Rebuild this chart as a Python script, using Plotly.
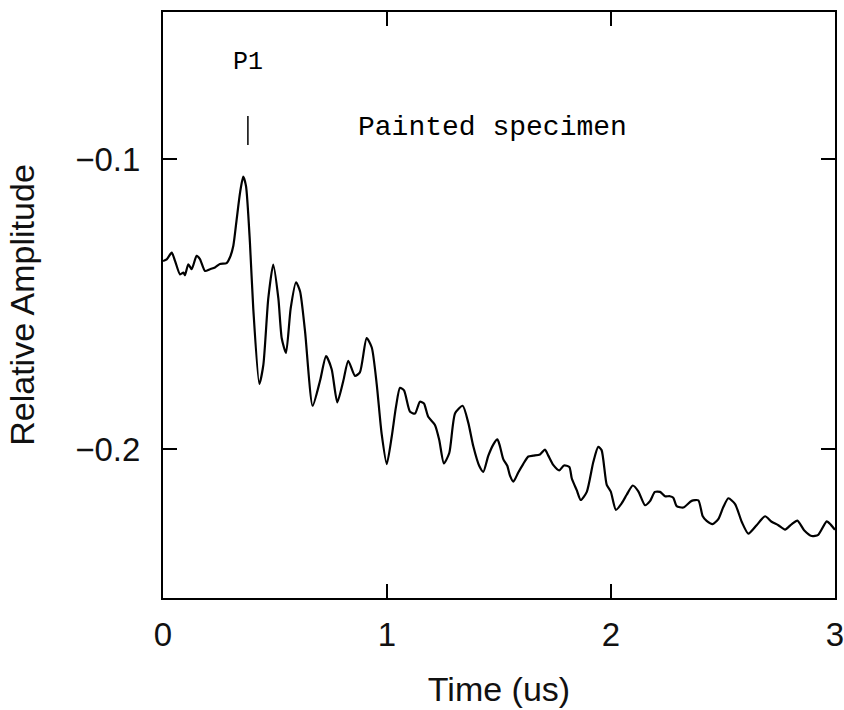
import plotly.graph_objects as go

# Time in microseconds
time_us = [0.00, 0.0165, 0.039, 0.054, 0.076, 0.091, 0.098, 0.113, 0.128, 0.150,
           0.165, 0.1875, 0.210, 0.232, 0.254, 0.284, 0.299, 0.314, 0.329, 0.344,
           0.358, 0.3705, 0.388, 0.403, 0.430, 0.448, 0.470, 0.492, 0.515, 0.530,
           0.549, 0.570, 0.594, 0.612, 0.634, 0.668, 0.701, 0.728, 0.753, 0.778,
           0.805, 0.827, 0.857, 0.879, 0.909, 0.932, 0.954, 0.976, 0.999, 1.021,
           1.040, 1.058, 1.076, 1.103, 1.125, 1.147, 1.165, 1.184, 1.214, 1.233,
           1.254, 1.278, 1.304, 1.338, 1.363, 1.385, 1.412, 1.430, 1.452, 1.475,
           1.493, 1.504, 1.519, 1.537, 1.549, 1.564, 1.586, 1.608, 1.631, 1.653,
           1.683, 1.705, 1.720, 1.742, 1.769, 1.790, 1.814, 1.825, 1.847, 1.865,
           1.892, 1.921, 1.943, 1.958, 1.981, 1.999, 2.022, 2.048, 2.070, 2.097,
           2.122, 2.152, 2.174, 2.196, 2.219, 2.241, 2.263, 2.278, 2.293, 2.323,
           2.360, 2.390, 2.409, 2.427, 2.454, 2.479, 2.501, 2.524, 2.554, 2.584,
           2.613, 2.650, 2.688, 2.717, 2.747, 2.777, 2.807, 2.832, 2.862, 2.896,
           2.925, 2.963, 2.981, 3.000]

# Relative amplitude
amplitude = [-0.1352, -0.1346, -0.1323, -0.1352, -0.1398, -0.1392, -0.1401, -0.1363, -0.1380, -0.1334,
             -0.1345, -0.1386, -0.1380, -0.1374, -0.1362, -0.1359, -0.1339, -0.1299, -0.1207, -0.1116,
             -0.1061, -0.1093, -0.1287, -0.1516, -0.1776, -0.1710, -0.1481, -0.1364, -0.1481, -0.1618,
             -0.1669, -0.1515, -0.1425, -0.1457, -0.1594, -0.1851, -0.1765, -0.1680, -0.1725, -0.1839,
             -0.1765, -0.1696, -0.1748, -0.1736, -0.1618, -0.1650, -0.1776, -0.1947, -0.2052, -0.1958,
             -0.1855, -0.1789, -0.1798, -0.1872, -0.1878, -0.1837, -0.1843, -0.1889, -0.1917, -0.1968,
             -0.2050, -0.2014, -0.1877, -0.1851, -0.1910, -0.1990, -0.2059, -0.2079, -0.2024, -0.1984,
             -0.1967, -0.1990, -0.2035, -0.2058, -0.2092, -0.2113, -0.2081, -0.2052, -0.2026, -0.2023,
             -0.2019, -0.2002, -0.2023, -0.2055, -0.2074, -0.2057, -0.2062, -0.2102, -0.2142, -0.2176,
             -0.2148, -0.2045, -0.1993, -0.2004, -0.2124, -0.2147, -0.2210, -0.2187, -0.2158, -0.2126,
             -0.2146, -0.2194, -0.2180, -0.2148, -0.2148, -0.2163, -0.2163, -0.2168, -0.2197, -0.2202,
             -0.2179, -0.2177, -0.2231, -0.2248, -0.2259, -0.2242, -0.2201, -0.2170, -0.2190, -0.2252,
             -0.2292, -0.2263, -0.2232, -0.2251, -0.2263, -0.2278, -0.2259, -0.2247, -0.2280, -0.2300,
             -0.2296, -0.2250, -0.2261, -0.2279]

x_ticks = [0, 1, 2, 3]
y_ticks = [-0.2, -0.1]

# Peak marker and labels
p1_time = 0.379
p1_marker_top = -0.0852
p1_marker_bottom = -0.0952
p1_label_y = -0.0668
label_text = "Painted specimen"
label_time = 1.47
label_y = -0.0891

fig = go.Figure()
fig.add_trace(go.Scatter(x=time_us, y=amplitude, mode="lines",
                         line=dict(color="black", width=2.2, shape="spline", smoothing=0.6),
                         showlegend=False, hoverinfo="skip"))

fig.add_shape(type="line", x0=p1_time, x1=p1_time, y0=p1_marker_bottom, y1=p1_marker_top,
              xref="x", yref="y", line=dict(color="black", width=1.5))
fig.add_annotation(x=p1_time, y=p1_label_y, text="P1", showarrow=False,
                   font=dict(family="Liberation Mono", size=25, color="black"))
fig.add_annotation(x=label_time, y=label_y, text=label_text, showarrow=False,
                   font=dict(family="Liberation Mono", size=28, color="black"))

axis_common = dict(showline=True, linecolor="black", linewidth=2, mirror="ticks",
                   ticks="inside", ticklen=14, tickwidth=1.5, tickcolor="black",
                   showgrid=False, zeroline=False, automargin=False,
                   ticklabeloverflow="allow",
                   tickfont=dict(family="Liberation Sans", size=33, color="#111"),
                   title_font=dict(family="Liberation Sans", size=34, color="#111"))

fig.update_xaxes(range=[0, 3], tickvals=x_ticks, ticktext=[str(v) for v in x_ticks],
                 ticklabelstandoff=6, title_text="Time (us)", title_standoff=26,
                 **axis_common)
fig.update_yaxes(range=[-0.2514, -0.0493], tickvals=y_ticks,
                 ticktext=["\u22120.2", "\u22120.1"], ticklabelstandoff=14,
                 title_text="Relative Amplitude", title_standoff=30, **axis_common)

fig.update_layout(width=844, height=710, margin=dict(l=163, r=9, t=12, b=112),
                  plot_bgcolor="white", paper_bgcolor="white")

fig.write_html("out.html", config={"displayModeBar": False},
               post_script="document.body.style.margin='0';document.body.style.overflow='hidden';")
